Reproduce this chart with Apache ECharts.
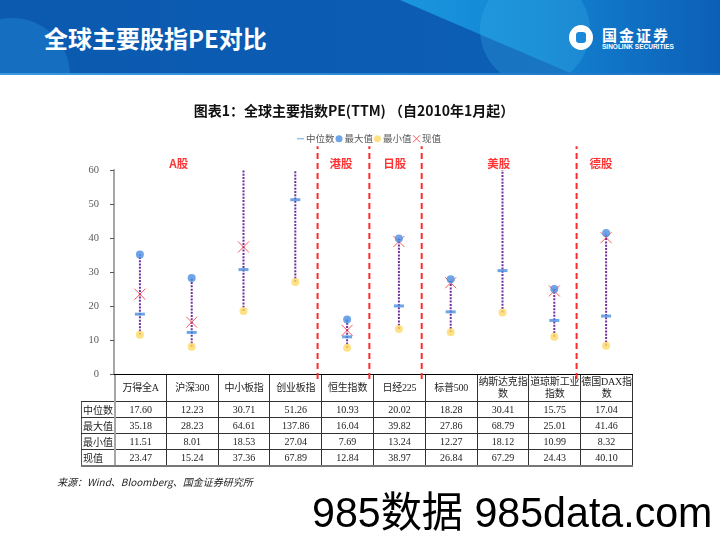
<!DOCTYPE html>
<html><head><meta charset="utf-8">
<script src="https://cdn.jsdelivr.net/npm/echarts@6/dist/echarts.min.js"></script>
<style>
html,body{margin:0;padding:0;background:#fff;}
#page{position:relative;width:720px;height:540px;overflow:hidden;background:#fff;}
#hdr{position:absolute;left:0;top:0;width:720px;height:75px;background:linear-gradient(90deg,#0b5ab0 0%,#0c5cb3 55%,#0d63b8 100%);overflow:hidden;}
#hdr .circ{position:absolute;left:-45px;top:18px;width:115px;height:115px;border-radius:50%;background:rgba(40,150,220,0.35);}
#hdr .sw{position:absolute;left:0;top:0;width:720px;height:75px;clip-path:polygon(400px 0,720px 0,720px 75px,575px 75px);background:linear-gradient(90deg,#1fa3e6 0%,#1c9ce1 50%,#1383d2 75%,#0c5fb6 100%);}
#hdr .bulge{position:absolute;left:480px;top:-25px;width:110px;height:110px;border-radius:50%;background:rgba(70,195,240,0.22);}
#hdr .edge{position:absolute;left:0;top:73px;width:720px;height:2px;background:linear-gradient(90deg,#3a9be0,#1b73c6);}
#htitle{position:absolute;left:44px;top:25px;font:bold 24px/26px 'Noto Sans CJK SC',sans-serif;color:#fff;white-space:nowrap;}
#logoC{position:absolute;left:569px;top:25px;width:24px;height:25px;border-radius:50%;background:#fff;}
#logoC div{position:absolute;left:7px;top:7px;width:10px;height:11px;border-radius:3px;background:#1a8ad8;}
#logoT{position:absolute;left:602px;top:27px;font:bold 15px/15px 'Noto Sans CJK SC',sans-serif;color:#fff;letter-spacing:2px;white-space:nowrap;}
#logoE{position:absolute;left:602px;top:43px;font:bold 6.5px/7px 'Liberation Sans',sans-serif;color:#fff;white-space:nowrap;}
#chart{position:absolute;left:0;top:0;width:720px;height:540px;}
#tbl{position:absolute;left:81px;top:375px;border-collapse:collapse;table-layout:fixed;font-family:'Liberation Serif','Noto Sans CJK SC',serif;font-size:10px;color:#222;z-index:5;}
#tbl td{border:1px solid #333;text-align:center;padding:0;overflow:hidden;line-height:12px;}
#tbl tr.h td{height:26px;border-top:none;word-break:break-all;letter-spacing:-0.2px;}
#tbl tr.r td{height:15px;white-space:nowrap;line-height:15px;}
#tbl td.lab{text-align:left;padding-left:1px;font-family:'Noto Sans CJK SC',sans-serif;font-size:10px;border-left:1px solid #555;white-space:nowrap;}
#tbl td.c1{border-left:2px solid #a6a6a6;}
#tbl tr.last td{border-bottom:2px solid #777;}
#src{position:absolute;left:57px;top:476px;font:italic 10px/12px 'Noto Sans CJK SC',sans-serif;color:#222;white-space:nowrap;}
#wm{position:absolute;left:312px;top:491px;font:42px/44px 'Liberation Sans','Noto Sans CJK SC',sans-serif;color:#000;white-space:nowrap;transform:scaleX(0.98);transform-origin:0 0;}
</style></head>
<body>
<div id="page">
  <div id="hdr"><div class="circ"></div><div class="sw"></div><div class="bulge"></div><div class="edge"></div></div>
  <div id="htitle">全球主要股指PE对比</div>
  <div id="logoC"><div></div></div>
  <div id="logoT">国金证券</div>
  <div id="logoE">SINOLINK SECURITIES</div>
  <div id="chart"></div>
  <table id="tbl"></table>
  <div id="src">来源：Wind、Bloomberg、国金证券研究所</div>
  <div id="wm">985数据 985data.com</div>
</div>
<script>
// ---- data ----
var categories = ['万得全A','沪深300','中小板指','创业板指','恒生指数','日经225','标普500','纳斯达克指数','道琼斯工业指数','德国DAX指数'];
var medianV  = [17.60, 12.23, 30.71, 51.26, 10.93, 20.02, 18.28, 30.41, 15.75, 17.04];
var maxV     = [35.18, 28.23, 64.61, 137.86, 16.04, 39.82, 27.86, 68.79, 25.01, 41.46];
var minV     = [11.51, 8.01, 18.53, 27.04, 7.69, 13.24, 12.27, 18.12, 10.99, 8.32];
var currentV = [23.47, 15.24, 37.36, 67.89, 12.84, 38.97, 26.84, 67.29, 24.43, 40.10];
var rowNames = ['中位数','最大值','最小值','现值'];
var groupNames = ['A股','港股','日股','美股','德股'];
var groupPos   = [1.25, 4.38, 5.42, 7.43, 9.40];   // in category units
var dividers   = [3.93, 4.93, 5.94, 8.93];          // in category units

// ---- table ----
(function(){
  var t = document.getElementById('tbl');
  var html = '<colgroup><col style="width:33px">';
  for (var i=0;i<categories.length;i++) html += '<col style="width:51.8px">';
  html += '</colgroup>';
  html += '<tr class="h"><td style="border-top:none;border-left:none;"></td>';
  categories.forEach(function(c,i){ html += '<td class="'+(i===0?'c1':'')+'">'+c+'</td>'; });
  html += '</tr>';
  var rows = [medianV, maxV, minV, currentV];
  rows.forEach(function(r,k){
    html += '<tr class="r'+(k===rows.length-1?' last':'')+'"><td class="lab">'+rowNames[k]+'</td>';
    r.forEach(function(v,i){ html += '<td class="'+(i===0?'c1':'')+'">'+v.toFixed(2)+'</td>'; });
    html += '</tr>';
  });
  t.innerHTML = html;
})();

// ---- chart ----
var chart = echarts.init(document.getElementById('chart'), null, {renderer:'canvas'});
var cjk = 'Noto Sans CJK SC';
var series = [];
series.push({
  type:'custom', name:'range', xAxisIndex:0, yAxisIndex:0, z:1, silent:true,
  data: categories.map(function(c,i){ return [i, minV[i], maxV[i]]; }),
  encode:{x:0, y:[1,2]},
  renderItem: function(params, api){
    var p1 = api.coord([api.value(0), api.value(1)]);
    var p2 = api.coord([api.value(0), api.value(2)]);
    var cs = params.coordSys;
    var y2 = Math.max(p2[1], cs.y);
    return {type:'line', shape:{x1:p1[0], y1:p1[1], x2:p2[0], y2:y2},
            style:{stroke:'#7030a0', lineWidth:2, lineDash:[2,1.3]}};
  }
});
series.push({type:'scatter', name:'中位数', data:medianV, symbol:'rect', symbolSize:[10,3], z:3,
  itemStyle:{color:'#4a8fe0'}});
series.push({type:'scatter', name:'最小值', data:minV, symbol:'circle', symbolSize:8, z:4,
  itemStyle:{color:'#ffd966'}});
series.push({type:'scatter', name:'现值', data:currentV, symbol:'path://M0,0L10,10M10,0L0,10', symbolSize:11, z:5,
  itemStyle:{color:'rgba(0,0,0,0)', borderColor:'#ff2a2a', borderWidth:1}});
series.push({type:'scatter', name:'最大值', data:maxV, symbol:'circle', symbolSize:8, z:6,
  itemStyle:{color:'#4a8fe2'}});
dividers.forEach(function(d){
  series.push({type:'line', xAxisIndex:1, yAxisIndex:1, data:[[d,-1.5],[d,67]], symbol:'none', clip:false, silent:true, z:0,
    lineStyle:{color:'#ff2a2a', width:2, type:[6,4]}});
});
series.push({type:'scatter', xAxisIndex:1, yAxisIndex:1, clip:false, silent:true, symbolSize:1,
  itemStyle:{color:'rgba(0,0,0,0)'},
  data: groupNames.map(function(g,i){ return [groupPos[i], 61.8, g]; }),
  label:{show:true, position:'inside', formatter:function(p){return p.value[2];}, color:'#ff0000', fontSize:11.5, fontWeight:'bold', fontFamily:cjk}
});

chart.setOption({
  animation:false,
  backgroundColor:'transparent',
  title:{text:'图表1：全球主要指数PE(TTM) （自2010年1月起）', left:349, top:99, textAlign:'center',
    textStyle:{fontFamily:cjk, fontSize:14, fontWeight:'bold', color:'#111'}},
  legend:{top:129, left:292, itemWidth:7, itemHeight:7, itemGap:1,
    textStyle:{fontFamily:cjk, fontSize:9.5, color:'#595959', padding:[0,0,0,-3]},
    data:[
      {name:'中位数', icon:'path://M0,0L0.01,0M10,10L9.99,10M0,4.2H10V5.8H0Z'},
      {name:'最大值', icon:'circle'},
      {name:'最小值', icon:'circle'},
      {name:'现值', icon:'path://M0,0L10,10M10,0L0,10', itemStyle:{color:'rgba(0,0,0,0)', borderColor:'#ff2a2a', borderWidth:1}}
    ]},
  grid:{left:114, top:170, width:518, height:204, containLabel:false},
  xAxis:[
    {type:'category', data:categories, boundaryGap:true,
     axisLine:{show:true, lineStyle:{color:'#000', width:1}},
     axisTick:{show:true, length:4, lineStyle:{color:'#000'}},
     axisLabel:{show:false}, splitLine:{show:false}},
    {type:'value', min:0, max:10, show:false}
  ],
  yAxis:[
    {type:'value', min:0, max:60, interval:10,
     axisLine:{show:true, lineStyle:{color:'#a6a6a6', width:2}},
     axisTick:{show:true, length:4, lineStyle:{color:'#595959'}},
     axisLabel:{fontFamily:'Liberation Serif', fontSize:10.5, color:'#595959', margin:15},
     splitLine:{show:false}},
    {type:'value', min:0, max:60, show:false}
  ],
  series:series
});
</script>
</body></html>
